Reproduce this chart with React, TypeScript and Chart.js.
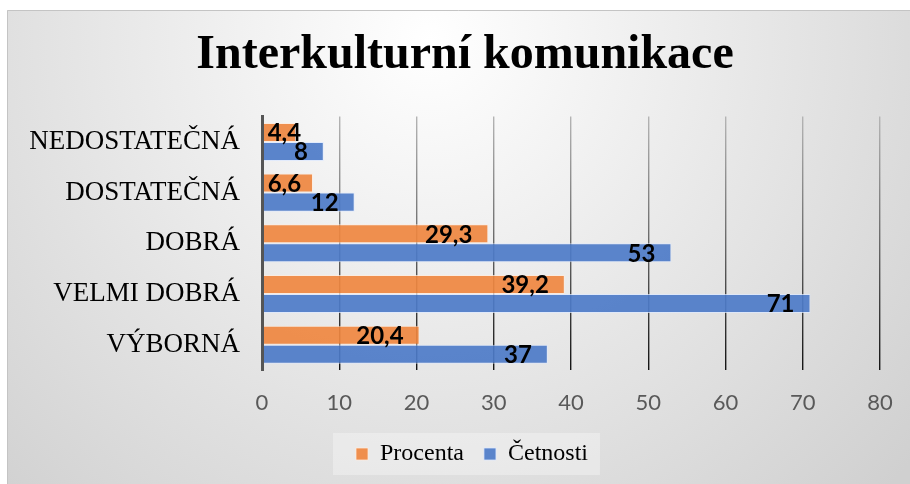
import React, { useEffect, useRef } from 'react';
import { Chart, registerables } from 'chart.js';

Chart.register(...registerables);

const titleText = 'Interkulturní komunikace';
const categories = ['NEDOSTATEČNÁ', 'DOSTATEČNÁ', 'DOBRÁ', 'VELMI DOBRÁ', 'VÝBORNÁ'];
const seriesNames = ['Procenta', 'Četnosti'];
const procenta = [4.4, 6.6, 29.3, 39.2, 20.4];
const cetnosti = [8, 12, 53, 71, 37];
const xMin = 0;
const xMax = 80;
const xStep = 10;

const W = 910;
const H = 484;

const fmt = (v: number) => String(v).replace('.', ',');

const backgroundPlugin = {
  id: 'bgPlugin',
  beforeDraw(chart: any) {
    const ctx = chart.ctx;
    ctx.save();
    ctx.fillStyle = '#ffffff';
    ctx.fillRect(0, 0, W, H);
    const g = ctx.createRadialGradient(430, 40, 0, 430, 40, 640);
    g.addColorStop(0, '#ffffff');
    g.addColorStop(1, '#d0d0d0');
    ctx.fillStyle = g;
    ctx.fillRect(7, 10, W - 7, H - 10);
    ctx.strokeStyle = '#c4c4c4';
    ctx.lineWidth = 1;
    ctx.beginPath();
    ctx.moveTo(7.5, H);
    ctx.lineTo(7.5, 10.5);
    ctx.lineTo(W, 10.5);
    ctx.stroke();
    // legend background box
    const legend = chart.legend;
    if (legend && legend.legendHitBoxes && legend.legendHitBoxes.length) {
      const hb = legend.legendHitBoxes;
      const first = hb[0];
      const last = hb[hb.length - 1];
      const cy = first.top + first.height / 2;
      const left = first.left - 23;
      const right = last.left + last.width + 12;
      ctx.fillStyle = 'rgba(255,255,255,0.32)';
      ctx.fillRect(left, cy - 21, right - left, 42);
    }
    ctx.restore();
  },
};

const shiftPlugin = {
  id: 'shiftPlugin',
  afterLayout(chart: any) {
    const t = chart.titleBlock;
    if (t) {
      t.left += 25;
      t.right += 25;
    }
    const lg = chart.legend;
    if (lg) {
      const p = lg.options.labels.padding;
      const w = lg.width;
      lg.left = 356 - p;
      lg.right = lg.left + w;
    }
  },
};

const labelPlugin = {
  id: 'valueLabels',
  afterDatasetsDraw(chart: any) {
    const ctx = chart.ctx;
    ctx.save();
    ctx.font = 'bold 24px Lato, "Open Sans", sans-serif';
    ctx.fillStyle = '#000000';
    ctx.textAlign = 'right';
    ctx.textBaseline = 'alphabetic';
    chart.data.datasets.forEach((ds: any, di: number) => {
      const meta = chart.getDatasetMeta(di);
      meta.data.forEach((bar: any, i: number) => {
        const text = fmt(ds.data[i]);
        const w = ctx.measureText(text).width;
        const base = Math.min(bar.base, bar.x);
        const right = Math.max(bar.x - 16, base + 5 + w);
        ctx.fillText(text, right, bar.y + 9);
      });
    });
    ctx.restore();
  },
};

function gridColor(c: any) {
  const chart = c.chart;
  const area = chart.chartArea;
  if (!area) return '#777777';
  const g = chart.ctx.createLinearGradient(0, area.top, 0, area.bottom);
  g.addColorStop(0, '#b4b4b4');
  g.addColorStop(0.45, '#707070');
  g.addColorStop(1, '#141414');
  return g;
}

export default function App() {
  const ref = useRef<HTMLCanvasElement | null>(null);

  useEffect(() => {
    if (!ref.current) return;
    const chart = new Chart(ref.current, {
      type: 'bar',
      data: {
        labels: categories,
        datasets: [
          {
            label: seriesNames[0],
            data: procenta,
            backgroundColor: 'rgba(239,135,64,0.92)',
            borderColor: 'rgba(255,235,220,0.75)',
            borderWidth: 1,
            categoryPercentage: 0.75,
            barPercentage: 1.0,
          },
          {
            label: seriesNames[1],
            data: cetnosti,
            backgroundColor: 'rgba(77,123,200,0.92)',
            borderColor: 'rgba(220,232,255,0.75)',
            borderWidth: 1,
            categoryPercentage: 0.75,
            barPercentage: 1.0,
          },
        ],
      },
      options: {
        indexAxis: 'y',
        responsive: false,
        animation: false,
        devicePixelRatio: 1,
        layout: { padding: { left: 0, right: 30, top: 0, bottom: 8 } },
        scales: {
          x: {
            type: 'linear',
            min: xMin,
            max: xMax,
            ticks: {
              stepSize: xStep,
              color: '#595959',
              font: { family: 'Lato, "Open Sans", sans-serif', size: 22 },
              padding: 20,
            },
            grid: {
              color: gridColor,
              lineWidth: 1.4,
              drawTicks: false,
            },
            border: { display: false },
            afterFit: (s: any) => {
              s.height = 52;
              s.paddingLeft = 0;
              s.paddingRight = 0;
            },
          },
          y: {
            type: 'category',
            ticks: {
              color: '#000000',
              font: { family: '"Liberation Serif", "Times New Roman", serif', size: 27 },
              padding: 22,
            },
            grid: { display: false, drawTicks: false },
            border: { display: true, color: '#555555', width: 3, z: 1 },
            afterFit: (s: any) => {
              s.width = 262;
            },
          },
        },
        plugins: {
          title: {
            display: true,
            text: titleText,
            color: '#000000',
            font: { family: '"Liberation Serif", "Times New Roman", serif', size: 48, weight: 'bold' },
            padding: { top: 27, bottom: 32 },
          },
          legend: {
            display: true,
            position: 'bottom',
            align: 'start',
            labels: {
              boxWidth: 12,
              boxHeight: 12,
              padding: 20,
              color: '#000000',
              font: { family: '"Liberation Serif", "Times New Roman", serif', size: 24 },
            },
          },
          tooltip: { enabled: false },
        },
      },
      plugins: [backgroundPlugin, shiftPlugin, labelPlugin],
    } as any);
    return () => chart.destroy();
  }, []);

  return (
    <div style={{ position: 'absolute', left: 0, top: 0, width: W, height: H }}>
      <canvas ref={ref} width={W} height={H} style={{ display: 'block', width: W, height: H }} />
    </div>
  );
}
